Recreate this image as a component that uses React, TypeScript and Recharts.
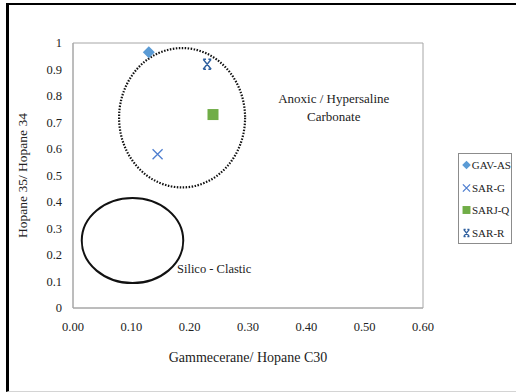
import {
  Label, Legend, ReferenceArea, ReferenceDot, Scatter, ScatterChart, XAxis, YAxis,
} from "recharts";

const FONT = '"Liberation Serif", "DejaVu Serif", serif';

// samples: [gammacerane/C30, C35/C34]
const gavAs = [{ x: 0.13, y: 0.965 }];
const sarG = [{ x: 0.145, y: 0.58 }];
const sarjQ = [{ x: 0.24, y: 0.73 }];
const sarR = [{ x: 0.23, y: 0.92 }];

const xTicks = [0, 0.1, 0.2, 0.3, 0.4, 0.5, 0.6];
const yTicks = [0, 0.1, 0.2, 0.3, 0.4, 0.5, 0.6, 0.7, 0.8, 0.9, 1];

// annotation ellipses in data units: bounding boxes
const carbonateZone = { x1: 0.079, x2: 0.295, y1: 0.455, y2: 0.981 };
const clasticZone = { x1: 0.015, x2: 0.189, y1: 0.094, y2: 0.415 };

const SERIES = [
  { name: "GAV-AS", data: gavAs, color: "#5b9bd5", kind: "diamond" },
  { name: "SAR-G", data: sarG, color: "#4f7fd0", kind: "cross" },
  { name: "SARJ-Q", data: sarjQ, color: "#70ad47", kind: "square" },
  { name: "SAR-R", data: sarR, color: "#2e5f9e", kind: "star" },
];

function Marker({ kind, color, cx, cy, s = 1 }: { kind: string; color: string; cx: number; cy: number; s?: number }) {
  if (kind === "diamond") {
    const r = 6 * s;
    return <path d={`M${cx},${cy - r}L${cx + r},${cy}L${cx},${cy + r}L${cx - r},${cy}Z`} fill={color} />;
  }
  if (kind === "square") {
    const r = 5.5 * s;
    return <rect x={cx - r} y={cy - r} width={2 * r} height={2 * r} fill={color} />;
  }
  const r = 5 * s;
  if (kind === "cross") {
    return (
      <path d={`M${cx - r},${cy - r}L${cx + r},${cy + r}M${cx - r},${cy + r}L${cx + r},${cy - r}`} stroke={color} strokeWidth={1.3} fill="none" />
    );
  }
  const w = r * 0.8;
  return (
    <path
      d={`M${cx - w},${cy - r}L${cx + w},${cy + r}M${cx - w},${cy + r}L${cx + w},${cy - r}M${cx - w},${cy - r}L${cx - w * 0.3},${cy - r}M${cx + w * 0.3},${cy - r}L${cx + w},${cy - r}M${cx - w},${cy + r}L${cx - w * 0.3},${cy + r}M${cx + w * 0.3},${cy + r}L${cx + w},${cy + r}`}
      stroke={color} strokeWidth={1.4} fill="none"
    />
  );
}

function LegendBox() {
  return (
    <div style={{ border: "1px solid #8c8c8c", background: "#fff", width: 54, height: 91, boxSizing: "border-box", padding: "0 0 0 3px", fontFamily: FONT, fontSize: 11, color: "#222", whiteSpace: "nowrap", textAlign: "left" }}>
      {SERIES.map((s) => (
        <div key={s.name} style={{ display: "flex", alignItems: "center", height: 22.5 }}>
          <svg width={9} height={10} style={{ marginRight: 1 }}>
            <Marker kind={s.kind} color={s.color} cx={4.5} cy={5} s={0.72} />
          </svg>
          <span>{s.name}</span>
        </div>
      ))}
    </div>
  );
}

const ellipseShape = (dotted: boolean) => (p: any) => (
  <ellipse
    cx={p.x + p.width / 2}
    cy={p.y + p.height / 2}
    rx={p.width / 2}
    ry={p.height / 2}
    fill="none"
    stroke="#111"
    strokeWidth={dotted ? 2.2 : 2}
    strokeDasharray={dotted ? "1.5 1.5" : undefined}
  />
);

export default function App() {
  return (
    <div style={{ position: "fixed", left: 0, top: 0, width: 516, height: 392, background: "#fff", overflow: "hidden" }}>
      <div style={{ position: "absolute", left: 6, top: 3, width: 520, height: 386, borderTop: "2px solid #000", borderLeft: "3px solid #000", borderBottom: "1px solid #d4d4d4" }} />
      <ScatterChart width={516} height={392} margin={{ top: 43, right: 39, bottom: 24, left: 0 }} style={{ position: "absolute", left: 0, top: 0 }}>
        <XAxis
          type="number" dataKey="x" domain={[0, 0.6]} ticks={xTicks} height={60}
          tickFormatter={(v: number) => v.toFixed(2)}
          tick={{ fontFamily: FONT, fontSize: 12.5, fill: "#222" }}
          tickLine={false} tickSize={0} tickMargin={14}
          axisLine={{ stroke: "#a6a6a6" }}
        >
          <Label value="Gammecerane/ Hopane C30" position="insideBottom" offset={6} style={{ fontFamily: FONT, fontSize: 14, fill: "#222" }} />
        </XAxis>
        <YAxis
          type="number" dataKey="y" domain={[0, 1]} ticks={yTicks} width={73}
          tick={{ fontFamily: FONT, fontSize: 12.5, fill: "#222" }}
          tickLine={false} tickSize={0} tickMargin={11}
          axisLine={{ stroke: "#a6a6a6" }}
        >
          <Label
            content={({ viewBox }: any) => {
              const cy = viewBox.y + viewBox.height / 2;
              return (
                <text x={22} y={cy} transform={`rotate(-90 22 ${cy})`} textAnchor="middle" dominantBaseline="central" fontFamily={FONT} fontSize={13.5} fill="#222">
                  Hopane 35/ Hopane 34
                </text>
              );
            }}
          />
        </YAxis>
        <ReferenceArea x1={0} x2={0.6} y1={0} y2={1} fill="none" stroke="#a6a6a6" ifOverflow="visible" />
        <ReferenceArea {...carbonateZone} shape={ellipseShape(true)} ifOverflow="visible" />
        <ReferenceArea {...clasticZone} shape={ellipseShape(false)} ifOverflow="visible" />
        <ReferenceDot
          x={0.447} y={0.758} r={0} fill="none" stroke="none" ifOverflow="visible"
          label={(p: any) => {
            const cx = p.viewBox.x + (p.viewBox.width || 0) / 2;
            const cy = p.viewBox.y + (p.viewBox.height || 0) / 2;
            return (
              <text x={cx} y={cy} textAnchor="middle" fontFamily={FONT} fontSize={13} fill="#222">
                <tspan x={cx} dy={-4}>Anoxic / Hypersaline</tspan>
                <tspan x={cx} dy={18}>Carbonate</tspan>
              </text>
            );
          }}
        />
        <ReferenceDot
          x={0.242} y={0.151} r={0} fill="none" stroke="none" ifOverflow="visible"
          label={(p: any) => {
            const cx = p.viewBox.x + (p.viewBox.width || 0) / 2;
            const cy = p.viewBox.y + (p.viewBox.height || 0) / 2;
            return (
              <text x={cx} y={cy + 5} textAnchor="middle" fontFamily={FONT} fontSize={12.5} fill="#222">
                Silico - Clastic
              </text>
            );
          }}
        />
        {SERIES.map((s) => (
          <Scatter
            key={s.name} name={s.name} data={s.data} fill={s.color} isAnimationActive={false}
            shape={(p: any) => <Marker kind={s.kind} color={s.color} cx={p.cx} cy={p.cy} />}
          />
        ))}
        <Legend
          layout="vertical" align="right" verticalAlign="middle" width={54}
          content={() => <LegendBox />}
          wrapperStyle={{ left: 458, top: 153, right: "auto", bottom: "auto", width: 54 }}
        />
      </ScatterChart>
    </div>
  );
}
